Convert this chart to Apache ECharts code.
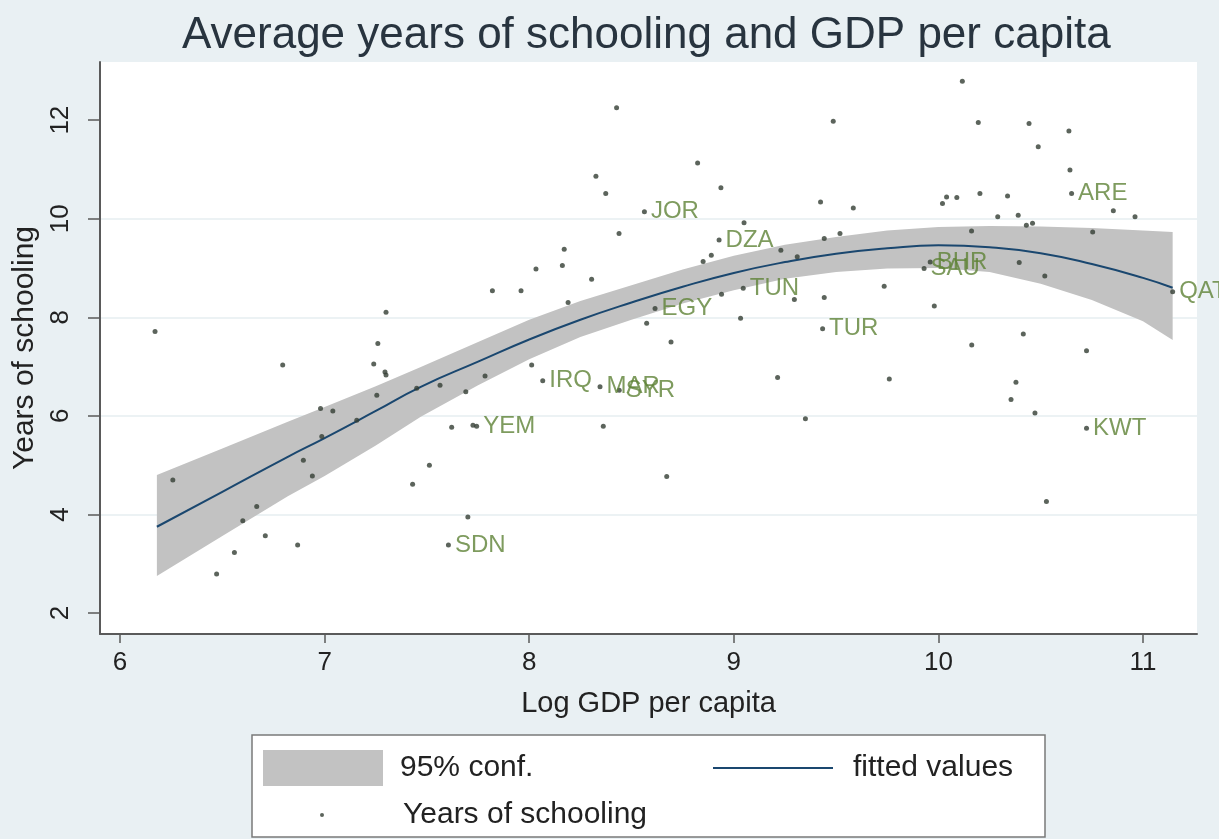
<!DOCTYPE html>
<html>
<head>
<meta charset="utf-8">
<script src="https://cdn.jsdelivr.net/npm/echarts@6/dist/echarts.min.js"></script>
<style>
html,body{margin:0;padding:0;background:#e9f0f3;}
#chart{width:1219px;height:839px;}
</style>
</head>
<body>
<div id="chart"></div>
<script>
// ---- data ----
const xTicks = [6, 7, 8, 9, 10, 11];
const yTicks = [2, 4, 6, 8, 10, 12];

// unlabeled observations: log GDP per capita, years of schooling
const obsX = [6.171,7.30,7.26,6.795,7.24,7.295,7.30,7.255,6.98,7.04,7.45,6.986,7.157,6.896,6.94,6.258,7.43,6.668,6.60,6.71,6.868,6.559,6.472,
  8.427,8.823,8.326,8.374,8.937,9.05,8.439,8.171,8.162,8.033,8.305,7.82,7.96,8.19,8.89,8.85,9.23,9.31,8.94,9.296,8.574,9.033,8.693,
  8.012,7.784,7.69,7.564,9.214,7.621,8.362,9.35,7.512,8.672,7.70,7.725,
  10.117,9.486,10.195,10.443,10.638,10.488,10.643,10.855,10.961,9.424,9.584,10.04,10.02,10.09,10.203,10.338,10.29,10.39,10.43,10.46,9.442,9.519,10.162,10.754,10.395,10.52,9.735,9.442,9.98,10.415,10.163,10.724,9.76,10.379,10.355,10.472,10.528];
const obsY = [7.71,8.10,7.47,7.03,7.05,6.89,6.83,6.42,6.15,6.10,6.56,5.58,5.91,5.10,4.78,4.70,4.61,4.16,3.87,3.57,3.38,3.23,2.79,
  12.25,11.13,10.86,10.51,10.63,9.92,9.70,9.38,9.05,8.98,8.77,8.54,8.54,8.30,9.26,9.13,9.36,9.23,8.47,8.36,7.88,7.98,7.50,
  7.03,6.81,6.49,6.62,6.78,5.77,5.79,5.94,5.00,4.77,3.95,5.81,
  12.79,11.98,11.95,11.93,11.78,11.46,10.99,10.16,10.04,10.34,10.22,10.44,10.31,10.43,10.51,10.46,10.04,10.07,9.87,9.91,9.60,9.70,9.75,9.73,9.11,8.84,8.63,8.40,8.23,7.66,7.44,7.32,6.75,6.68,6.33,6.06,4.26];

// labeled countries
const codes = ['JOR','DZA','TUN','EGY','IRQ','MAR','SYR','YEM','SDN','TUR','BHR','SAU','ARE','QAT','KWT'];
const codeX = [8.563,8.928,9.046,8.615,8.066,8.346,8.44,7.743,7.605,9.434,9.96,9.93,10.651,11.145,10.724];
const codeY = [10.14,9.57,8.59,8.18,6.71,6.59,6.52,5.79,3.38,7.77,9.12,8.99,10.51,8.52,5.75];

// fitted values and 95% confidence band
const fitX = [6.18, 6.5, 6.82, 7.0, 7.25, 7.47, 7.75, 8.0, 8.25, 8.5, 8.75, 9.0, 9.25, 9.5, 9.75, 10.0, 10.25, 10.5, 10.75, 11.0, 11.145];
const fitY = [3.75, 4.46, 5.17, 5.55, 6.10, 6.59, 7.10, 7.55, 7.95, 8.30, 8.62, 8.90, 9.12, 9.29, 9.40, 9.46, 9.42, 9.30, 9.08, 8.80, 8.60];
const ciLo = [2.75, 3.56, 4.37, 4.78, 5.40, 5.98, 6.62, 7.15, 7.60, 7.95, 8.28, 8.55, 8.78, 8.92, 8.99, 9.00, 8.92, 8.68, 8.35, 7.92, 7.54];
const ciHi = [4.80, 5.34, 5.88, 6.18, 6.60, 6.99, 7.50, 7.95, 8.33, 8.65, 8.97, 9.25, 9.47, 9.63, 9.76, 9.83, 9.85, 9.84, 9.81, 9.76, 9.73];

// ---- build chart ----
const FONT = '"Liberation Sans", Arial, Helvetica, sans-serif';
const BAND = '#c2c2c2';
const LINE = '#1a476f';
const DOT = '#333d33';
const LABEL = '#5e8236';

const scatterData = obsX.map((x, i) => ({ value: [x, obsY[i]] }))
  .concat(codes.map((c, i) => ({ value: [codeX[i], codeY[i]], name: c, label: { show: true } })));

const bandData = fitX.map((x, i) => [x, ciLo[i], ciHi[i]]);
const fitData = fitX.map((x, i) => [x, fitY[i]]);

const chart = echarts.init(document.getElementById('chart'), null, { renderer: 'canvas' });
chart.setOption({
  backgroundColor: '#e9f0f3',
  animation: false,
  textStyle: { fontFamily: FONT },
  title: {
    text: 'Average years of schooling and GDP per capita',
    left: 182, top: 14, padding: 0,
    textStyle: { fontFamily: FONT, fontSize: 44, fontWeight: 'normal', color: '#28343f' }
  },
  grid: {
    left: 100, right: 22, top: 62, bottom: 205,
    show: true, backgroundColor: '#ffffff', borderWidth: 0
  },
  xAxis: {
    type: 'value', min: 5.902, max: 11.264,
    name: 'Log GDP per capita', nameLocation: 'middle', nameGap: 55,
    nameTextStyle: { fontFamily: FONT, fontSize: 29, color: '#222' },
    axisLine: { show: true, lineStyle: { color: '#5a5a5a', width: 2 } },
    axisTick: { show: true, length: 9, lineStyle: { color: '#5a5a5a', width: 1.5 }, customValues: xTicks },
    axisLabel: { fontSize: 26, color: '#222', margin: 16, customValues: xTicks },
    splitLine: { show: false }
  },
  yAxis: {
    type: 'value', min: 1.574, max: 13.18,
    name: 'Years of schooling', nameLocation: 'middle', nameGap: 56,
    nameTextStyle: { fontFamily: FONT, fontSize: 30, color: '#222' },
    axisLine: { show: true, lineStyle: { color: '#5a5a5a', width: 2 } },
    axisTick: { show: true, length: 12, lineStyle: { color: '#5a5a5a', width: 1.5 }, customValues: yTicks },
    axisLabel: { fontSize: 26, color: '#222', margin: 26, rotate: 90, customValues: yTicks },
    splitLine: { show: true, showMinLine: false, showMaxLine: false, lineStyle: { color: '#e6eef0', width: 1.5 } }
  },
  legend: [
    { data: [{ name: '95% conf.', icon: 'rect', itemStyle: { color: BAND } }], left: 263, top: 750, padding: 0,
      itemWidth: 120, itemHeight: 36, textStyle: { fontFamily: FONT, fontSize: 30, color: '#222', padding: [0, 0, 0, 12] }, selectedMode: false },
    { data: [{ name: 'fitted values', icon: 'rect', itemStyle: { color: LINE } }], left: 713, top: 753, padding: 0,
      itemWidth: 120, itemHeight: 2, textStyle: { fontFamily: FONT, fontSize: 30, color: '#222', padding: [0, 0, 0, 15] }, selectedMode: false },
    { data: [{ name: 'Years of schooling', icon: 'circle', itemStyle: { color: DOT } }], left: 320, top: 800, padding: 0,
      itemWidth: 4, itemHeight: 4, textStyle: { fontFamily: FONT, fontSize: 30, color: '#222', padding: [0, 0, 0, 74] }, selectedMode: false }
  ],
  graphic: [{
    type: 'rect', z: -10, silent: true,
    shape: { x: 252, y: 735, width: 793, height: 102 },
    style: { fill: '#ffffff', stroke: '#7a7a7a', lineWidth: 1.5 }
  }],
  series: [
    {
      name: '95% conf.', type: 'custom', silent: true, z: 1,
      itemStyle: { color: BAND },
      data: bandData,
      encode: { x: 0, y: [1, 2] },
      renderItem: function (params, api) {
        if (params.dataIndex !== 0) return null;
        const pts = [];
        for (let i = 0; i < fitX.length; i++) pts.push(api.coord([fitX[i], ciHi[i]]));
        for (let i = fitX.length - 1; i >= 0; i--) pts.push(api.coord([fitX[i], ciLo[i]]));
        return { type: 'polygon', shape: { points: pts }, style: { fill: BAND } };
      }
    },
    {
      name: 'fitted values', type: 'line', data: fitData, smooth: true,
      symbol: 'none', z: 3,
      itemStyle: { color: LINE },
      lineStyle: { color: LINE, width: 2 }
    },
    {
      name: 'Years of schooling', type: 'scatter', data: scatterData, z: 4,
      symbol: 'circle', symbolSize: 5,
      itemStyle: { color: DOT },
      label: {
        show: false, position: 'right', distance: 4, formatter: '{b}',
        fontFamily: FONT, fontSize: 24, color: LABEL
      }
    }
  ]
});
</script>
</body>
</html>
